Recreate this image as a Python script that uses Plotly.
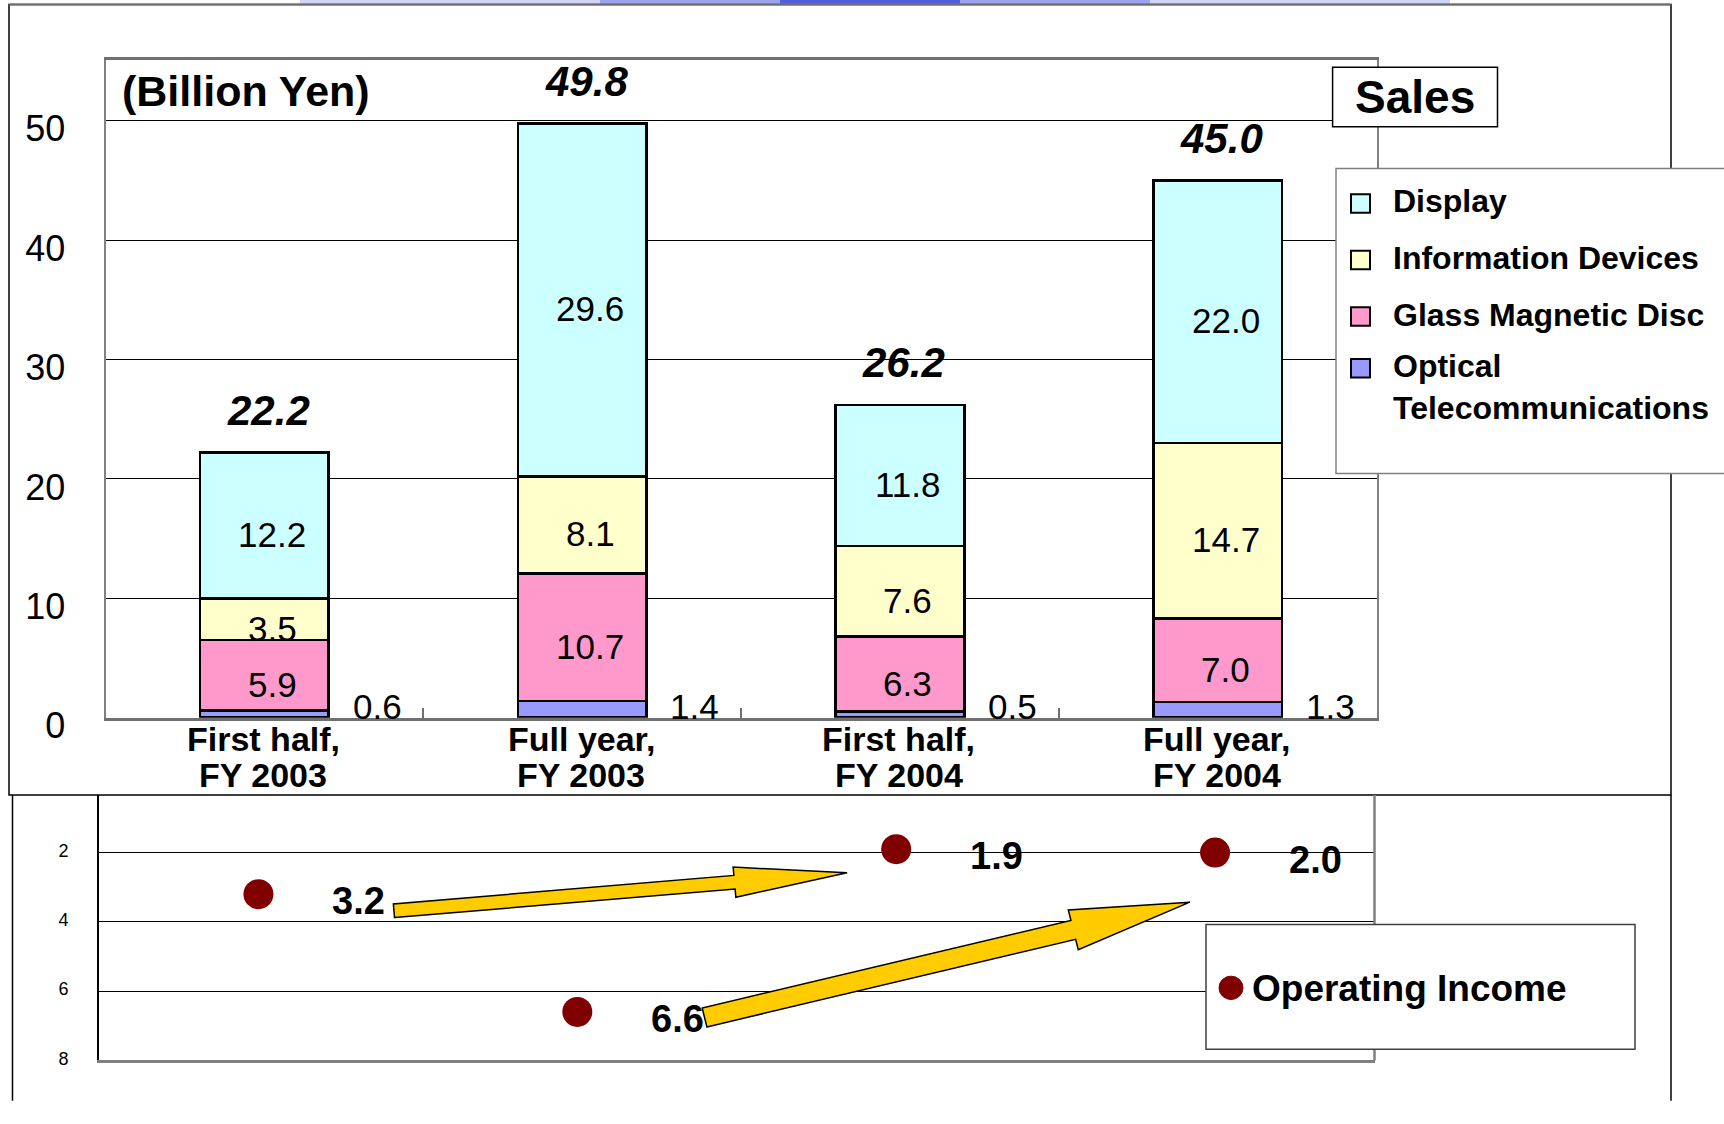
import math
import plotly.graph_objects as go

# ---------------- data ----------------
categories = ["First half,<br>FY 2003", "Full year,<br>FY 2003",
              "First half,<br>FY 2004", "Full year,<br>FY 2004"]
series_names = ["Optical<br>Telecommunications", "Glass Magnetic Disc",
                "Information Devices", "Display"]
optical = [0.6, 1.4, 0.5, 1.3]
glass = [5.9, 10.7, 6.3, 7.0]
info = [3.5, 8.1, 7.6, 14.7]
display = [12.2, 29.6, 11.8, 22.0]
totals = [22.2, 49.8, 26.2, 45.0]
op_income = [3.2, 6.6, 1.9, 2.0]
sales_ticks = [0, 10, 20, 30, 40, 50]
income_ticks = [2, 4, 6, 8]
# arrows (bottom panel data coords): (x_tail, y_tail, x_tip, y_tip)
arrows = [(0.425, 3.68, 1.846, 2.58), (1.399, 6.76, 2.921, 3.43)]

colors = ["#9999FF", "#FF99CC", "#FFFFCC", "#CCFFFF"]
series_values = [optical, glass, info, display]

W, H = 1724, 1124
FONT = "Arial, 'Liberation Sans', Helvetica, sans-serif"

def pxx(px):
    return px / W

def pxy(py):
    return 1 - py / H

# layout geometry (pixels)
TOP_L, TOP_R, TOP_T, TOP_B = 105.5, 1376.6, 61.6, 736.7
TOP_YMAX = 55.1
BOT_L, BOT_R, BOT_T, BOT_B = 99.0, 1374.5, 816.0, 1088.5
BOT_YMIN, BOT_YMAX = 0.335, 8.0

fig = go.Figure()

for name, vals, col in zip(series_names, series_values, colors):
    fig.add_trace(go.Bar(
        x=categories, y=vals, name=name.replace("<br>", " "),
        marker=dict(color=col, line=dict(color="black", width=2.5)),
        width=0.405, xaxis="x", yaxis="y", showlegend=False,
        hoverinfo="y+name"))

fig.add_trace(go.Scatter(
    x=categories, y=op_income, mode="markers", name="Operating Income",
    marker=dict(color="#800000", size=30), xaxis="x2", yaxis="y2",
    showlegend=False))

annotations = []
shapes = []

for i in range(len(categories)):
    base = optical[i]
    for vals in (glass, info, display):
        v = vals[i]
        annotations.append(dict(
            x=i, y=base + v / 2, xref="x", yref="y", text=f"{v:.1f}",
            showarrow=False, xshift=8, yshift=-9,
            font=dict(family=FONT, size=35, color="black")))
        base += v
    # optical labels to the right of bar
    annotations.append(dict(
        x=i + 0.355, y=0, xref="x", yref="y", text=f"{optical[i]:.1f}",
        showarrow=False, yanchor="middle", yshift=11,
        font=dict(family=FONT, size=35, color="black")))
    # totals
    annotations.append(dict(
        x=i, y=totals[i], xref="x", yref="y", text=f"<b><i>{totals[i]:.1f}</i></b>",
        showarrow=False, yanchor="middle", yshift=42, xshift=4,
        font=dict(family=FONT, size=42, color="black")))
    # category labels (two tight lines under the axis)
    for j, line in enumerate(categories[i].split("<br>")):
        annotations.append(dict(
            x=i, y=0, xref="x", yref="y", text=f"<b>{line}</b>",
            showarrow=False, yanchor="middle", yshift=-21 - 36.5 * j, xshift=-1,
            font=dict(family=FONT, size=34, color="black")))
    # operating income labels
    annotations.append(dict(
        x=i, y=op_income[i], xref="x2", yref="y2", text=f"<b>{op_income[i]:.1f}</b>",
        showarrow=False, xshift=100, yshift=-7,
        font=dict(family=FONT, size=38, color="black")))

# "(Billion Yen)"
annotations.append(dict(x=pxx(120), y=pxy(93), xref="paper", yref="paper",
                        xanchor="left", yanchor="middle", showarrow=False,
                        text="<b>(Billion Yen)</b>",
                        font=dict(family=FONT, size=43, color="black")))

# top gradient band + outer frame
shapes.append(dict(type="rect", xref="paper", yref="paper", layer="below",
                   x0=pxx(300), x1=pxx(1450), y0=pxy(0), y1=pxy(3.5),
                   fillcolor="#d0d5f7", line=dict(width=0)))
shapes.append(dict(type="rect", xref="paper", yref="paper", layer="below",
                   x0=pxx(600), x1=pxx(1150), y0=pxy(0), y1=pxy(3.5),
                   fillcolor="#9aa3ec", line=dict(width=0)))
shapes.append(dict(type="rect", xref="paper", yref="paper", layer="below",
                   x0=pxx(780), x1=pxx(960), y0=pxy(0), y1=pxy(3.5),
                   fillcolor="#5060dd", line=dict(width=0)))
shapes.append(dict(type="rect", xref="paper", yref="paper", layer="above",
                   x0=pxx(9), x1=pxx(1671), y0=pxy(4.5), y1=pxy(816),
                   line=dict(color="black", width=1.5)))
shapes.append(dict(type="line", xref="paper", yref="paper", layer="above",
                   x0=pxx(9), x1=pxx(1671), y0=pxy(4.5), y1=pxy(4.5),
                   line=dict(color="#707070", width=2)))
shapes.append(dict(type="line", xref="paper", yref="paper", layer="above",
                   x0=pxx(1671), x1=pxx(1671), y0=pxy(816), y1=pxy(1130),
                   line=dict(color="black", width=1.5)))
shapes.append(dict(type="line", xref="paper", yref="paper", layer="above",
                   x0=pxx(12.5), x1=pxx(12.5), y0=pxy(816), y1=pxy(1130),
                   line=dict(color="black", width=1.5)))

# bottom panel right frame
shapes.append(dict(type="line", xref="paper", yref="paper", layer="above",
                   x0=pxx(BOT_R), x1=pxx(BOT_R), y0=pxy(BOT_T), y1=pxy(BOT_B),
                   line=dict(color="#808080", width=2.5)))

# block arrows
def bx(x):
    return BOT_L + (x + 0.5) / len(categories) * (BOT_R - BOT_L)

def by(y):
    return BOT_T + (y - BOT_YMIN) / (BOT_YMAX - BOT_YMIN) * (BOT_B - BOT_T)

arrow_dims = [(7, 15.5, 113), (10, 21, 120)]
for (xt, yt, xp, yp), (w, hw, hl) in zip(arrows, arrow_dims):
    tx, ty = bx(xt), by(yt)
    px, py = bx(xp), by(yp)
    L = math.hypot(px - tx, py - ty)
    ux, uy = (px - tx) / L, (py - ty) / L
    nx, ny = -uy, ux
    bxp, byp = px - ux * hl, py - uy * hl
    pts = [(tx + nx * w, ty + ny * w), (bxp + nx * w, byp + ny * w),
           (bxp + nx * hw, byp + ny * hw), (px, py),
           (bxp - nx * hw, byp - ny * hw), (bxp - nx * w, byp - ny * w),
           (tx - nx * w, ty - ny * w)]
    path = "M " + " L ".join(f"{pxx(a):.5f},{pxy(b):.5f}" for a, b in pts) + " Z"
    shapes.append(dict(type="path", xref="paper", yref="paper", layer="above",
                       path=path, fillcolor="#FFCC00",
                       line=dict(color="black", width=1.5)))

# "Sales" box
shapes.append(dict(type="rect", xref="paper", yref="paper", layer="above",
                   x0=pxx(1332.6), x1=pxx(1497.5), y0=pxy(69), y1=pxy(130),
                   fillcolor="white", line=dict(color="black", width=1.5)))
annotations.append(dict(x=pxx(1415), y=pxy(100), xref="paper", yref="paper",
                        xanchor="center", yanchor="middle",
                        showarrow=False, text="<b>Sales</b>",
                        font=dict(family=FONT, size=46, color="black")))

# sales legend box (manual)
shapes.append(dict(type="rect", xref="paper", yref="paper", layer="above",
                   x0=pxx(1336), x1=pxx(1760), y0=pxy(173), y1=pxy(486),
                   fillcolor="white", line=dict(color="#808080", width=1.5)))
legend_order = [3, 2, 1, 0]
sq_centers = [209, 267, 325, 378]
txt_centers = [206.5, 265, 323, 397]
for k, idx in enumerate(legend_order):
    cy = sq_centers[k]
    shapes.append(dict(type="rect", xref="paper", yref="paper", layer="above",
                       x0=pxx(1351), x1=pxx(1370), y0=pxy(cy - 9.5), y1=pxy(cy + 9.5),
                       fillcolor=colors[idx], line=dict(color="black", width=2)))
    annotations.append(dict(x=pxx(1391), y=pxy(txt_centers[k]), xref="paper",
                            yref="paper", xanchor="left", yanchor="middle",
                            align="left", showarrow=False,
                            text=f"<b>{series_names[idx]}</b>",
                            font=dict(family=FONT, size=32, color="black")))

# operating income legend box (manual)
shapes.append(dict(type="rect", xref="paper", yref="paper", layer="above",
                   x0=pxx(1206), x1=pxx(1635), y0=pxy(949), y1=pxy(1077),
                   fillcolor="white", line=dict(color="#404040", width=1.5)))
shapes.append(dict(type="circle", xref="paper", yref="paper", layer="above",
                   x0=pxx(1219), x1=pxx(1243), y0=pxy(1002), y1=pxy(1026),
                   fillcolor="#800000", line=dict(color="#800000", width=1)))
annotations.append(dict(x=pxx(1250), y=pxy(1015), xref="paper", yref="paper",
                        xanchor="left", yanchor="middle", showarrow=False,
                        text="<b>Operating Income</b>",
                        font=dict(family=FONT, size=37, color="black")))

fig.update_layout(
    width=W, height=H, autosize=False,
    margin=dict(l=0, r=0, t=0, b=0),
    paper_bgcolor="white", plot_bgcolor="white",
    barmode="stack", bargap=0.6,
    font=dict(family=FONT, color="black"),
    xaxis=dict(domain=[pxx(TOP_L), pxx(TOP_R)], anchor="y", type="category",
               categoryorder="array", categoryarray=categories,
               range=[-0.5, 3.5], showgrid=False, zeroline=False,
               showline=True, linecolor="#707070", linewidth=2.5, mirror=True,
               ticks="inside", tickson="boundaries", ticklen=10,
               tickcolor="#707070", tickwidth=1.5, showticklabels=False,
               fixedrange=True),
    yaxis=dict(domain=[pxy(TOP_B), pxy(TOP_T)], anchor="x",
               range=[0, TOP_YMAX], tickvals=sales_ticks,
               showgrid=True, gridcolor="black", gridwidth=1.2,
               zeroline=False, showline=True, linecolor="#808080",
               linewidth=2, mirror=True, ticks="",
               ticklabelstandoff=31, ticklabelshift=8,
               tickfont=dict(family=FONT, size=36, color="black"),
               fixedrange=True),
    xaxis2=dict(domain=[pxx(BOT_L), pxx(BOT_R)], anchor="y2", type="category",
                categoryorder="array", categoryarray=categories,
                range=[-0.5, 3.5], showgrid=False, zeroline=False,
                showticklabels=False, showline=True, linecolor="#808080",
                linewidth=3, ticks="", fixedrange=True),
    yaxis2=dict(domain=[pxy(BOT_B), pxy(BOT_T)], anchor="x2",
                range=[BOT_YMAX, BOT_YMIN], tickvals=income_ticks,
                showgrid=True, gridcolor="black", gridwidth=1.2,
                zeroline=False, showline=True, linecolor="black", linewidth=2,
                ticks="", ticklabelstandoff=25, ticklabelshift=2,
                tickfont=dict(family=FONT, size=18, color="black"),
                fixedrange=True),
    annotations=annotations,
    shapes=shapes,
    showlegend=False,
)

fig.write_html("out.html",
               config={"responsive": False, "displayModeBar": False},
               post_script="document.body.style.margin='0px';")
